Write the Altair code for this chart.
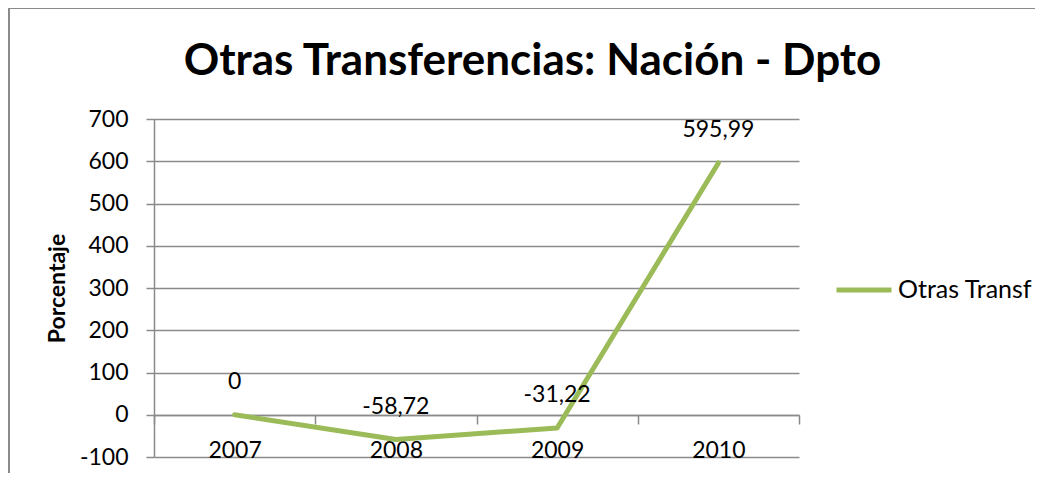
import altair as alt
import pandas as pd

years = ["2007", "2008", "2009", "2010"]
values = [0, -58.72, -31.22, 595.99]
value_labels = ["0", "-58,72", "-31,22", "595,99"]
series = "Otras Transf"
y_ticks = [-100, 0, 100, 200, 300, 400, 500, 600, 700]

df = pd.DataFrame({"year": years, "value": values, "label": value_labels, "series": [series] * len(years)})

FONT = "Lato"
GRID = "#8a8a8a"
GREEN = "#9BBB59"

x_enc = alt.X("year:N", title=None, sort=years,
              scale=alt.Scale(type="band", paddingInner=0, paddingOuter=0),
              axis=alt.Axis(orient="bottom", offset=-42, labelAngle=0, tickBand="extent",
                            tickSize=9, tickColor=GRID, tickWidth=1.5, domainColor=GRID, domainWidth=1.5,
                            labelPadding=15, labelFontSize=23, labelColor="#000", labelFont=FONT,
                            labelBaseline="top", grid=False))
y_enc = alt.Y("value:Q", title="Porcentaje",
              scale=alt.Scale(domain=[-100, 700], nice=False, zero=False),
              axis=alt.Axis(values=y_ticks, tickSize=8, tickColor=GRID, tickWidth=1.5,
                            labelExpr="'' + datum.value",
                            domainColor=GRID, domainWidth=1.5, gridColor=GRID, gridWidth=1.5,
                            labelPadding=18, labelFontSize=23, labelColor="#000", labelFont=FONT,
                            titleFont=FONT, titleFontSize=23, titleFontWeight="bold",
                            titlePadding=10, titleColor="#000"))

border = alt.Chart(pd.DataFrame({"b": [1]})).mark_rect(
    fill=None, stroke=GRID, strokeWidth=2
).encode(x=alt.value(-145), x2=alt.value(900), y=alt.value(-111), y2=alt.value(420))

line = alt.Chart(df).mark_line(strokeWidth=5, strokeCap="round", strokeJoin="round").encode(
    x=x_enc, y=y_enc,
    color=alt.Color("series:N", title=None,
                    scale=alt.Scale(domain=[series], range=[GREEN]),
                    legend=alt.Legend(orient="none", legendX=680, legendY=141,
                                      symbolType="stroke", symbolSize=3025, symbolStrokeWidth=5,
                                      labelFontSize=25, labelFont=FONT, labelColor="#000",
                                      labelLimit=300, labelOffset=4))
)

text = alt.Chart(df).mark_text(fontSize=23, font=FONT, color="#000", dy=-33, baseline="middle").encode(
    x=alt.X("year:N", sort=years), y="value:Q", text="label:N"
)

chart = alt.layer(border, line, text).properties(
    width=645, height=338,
    autosize=alt.AutoSizeParams(type="none"),
    padding={"left": 146, "top": 111, "right": 236, "bottom": 16},
    title=alt.TitleParams("Otras Transferencias: Nación - Dpto", fontSize=44, font=FONT,
                          fontWeight="bold", color="#000", anchor="middle", dx=56,
                          baseline="alphabetic", offset=-112),
).configure_view(stroke=None)

chart.save("out.html", embed_options={"renderer": "svg", "actions": False})
